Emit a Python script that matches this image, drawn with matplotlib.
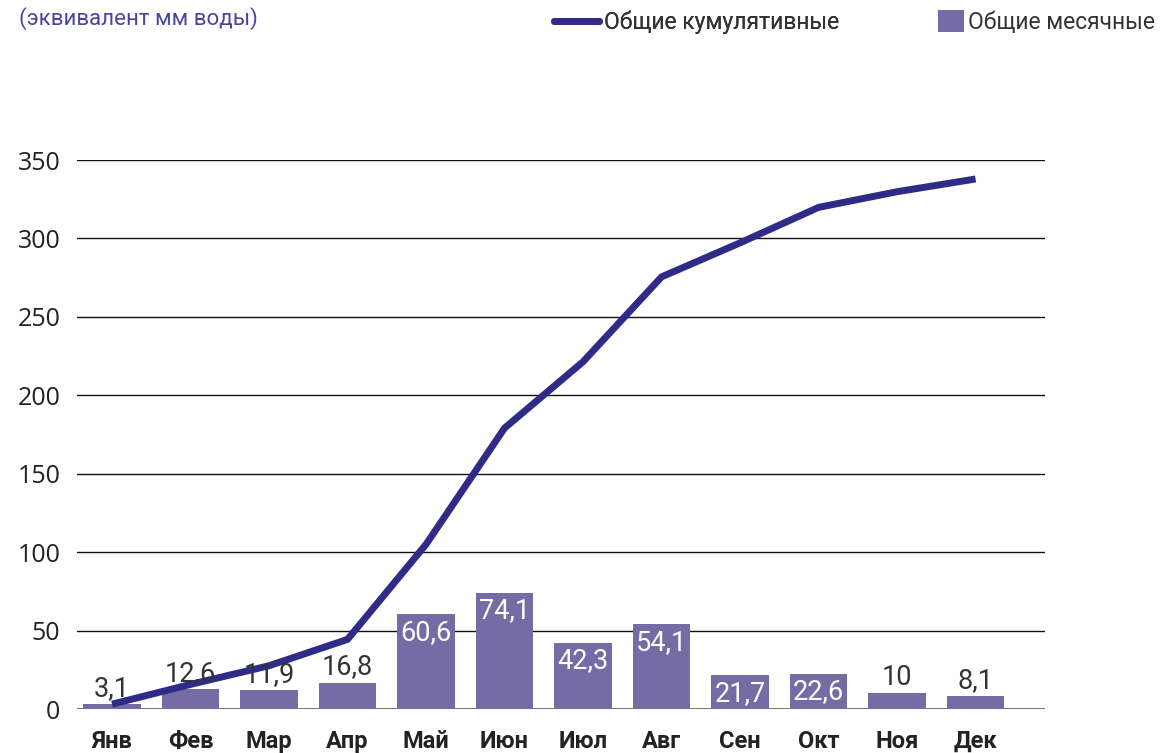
import matplotlib
matplotlib.use("Agg")
import matplotlib.pyplot as plt
from matplotlib.lines import Line2D
from matplotlib.patches import Patch
import numpy as np

months = ["Янв", "Фев", "Мар", "Апр", "Май", "Июн", "Июл", "Авг", "Сен", "Окт", "Ноя", "Дек"]
monthly = [3.1, 12.6, 11.9, 16.8, 60.6, 74.1, 42.3, 54.1, 21.7, 22.6, 10, 8.1]
yticks = [0, 50, 100, 150, 200, 250, 300, 350]

BAR_COLOR = "#756ca6"
LINE_COLOR = "#2f2b87"


def fmt(v):
    s = f"{v:g}"
    return s.replace(".", ",")


def main():
    cumulative = np.cumsum(monthly)
    x = np.arange(len(months))

    fig = plt.figure(figsize=(11.6, 7.53), dpi=100)
    ax = fig.add_axes([0.0664, 0.0584, 0.8345, 0.7291])

    ax.bar(x, monthly, width=0.73, color=BAR_COLOR, zorder=2)
    ax.plot(x, cumulative, color=LINE_COLOR, linewidth=5, zorder=3,
            solid_capstyle="butt", clip_on=False)

    # labels sit inside tall bars, above short ones
    for xi, v in zip(x, monthly):
        if v > 20:
            ax.text(xi, v - 3, fmt(v), ha="center", va="top", color="white",
                    fontsize=19.5, family="Roboto", zorder=4)
        else:
            ax.text(xi, v + 1.5, fmt(v), ha="center", va="bottom", color="#333333",
                    fontsize=19.5, family="Roboto", zorder=4)

    ax.set_xlim(-0.446, 11.885)
    ax.set_ylim(0, 350)
    ax.set_yticks(yticks)
    ax.set_yticklabels([str(t) for t in yticks], family="Open Sans", fontsize=18, color="#222222")
    ax.set_xticks(x)
    ax.set_xticklabels(months, family="Roboto", fontweight="bold", fontsize=17, color="#222222")
    ax.tick_params(axis="y", length=0, pad=12)
    ax.tick_params(axis="x", length=0, pad=15)

    for t in yticks[1:]:
        ax.axhline(t, color="#111111", linewidth=1, zorder=1)
    ax.axhline(0, color="#666666", linewidth=2, zorder=1)

    for s in ax.spines.values():
        s.set_visible(False)

    fig.text(0.016, 0.975, "(эквивалент мм воды)", family="Roboto", fontsize=16,
             color="#4a46a0", ha="left", va="center")

    # two separate legends so each handle gets its own size
    prop = {"family": "Roboto", "size": 16.5}
    leg1 = fig.legend([Line2D([0], [0], color=LINE_COLOR, linewidth=5, solid_capstyle="round")],
                      ["Общие кумулятивные"], loc="center left",
                      bbox_to_anchor=(0.478, 0.971), frameon=False, borderpad=0,
                      borderaxespad=0, handlelength=1.96, handletextpad=0.2,
                      prop=prop, labelcolor="#333333")
    fig.add_artist(leg1)
    fig.legend([Patch(facecolor=BAR_COLOR)], ["Общие месячные"], loc="center left",
               bbox_to_anchor=(0.8086, 0.971), frameon=False, borderpad=0,
               borderaxespad=0, handlelength=1.13, handleheight=1.13, handletextpad=0.2,
               prop=prop, labelcolor="#333333")

    fig.savefig("out.png", dpi=100)


if __name__ == "__main__":
    main()
